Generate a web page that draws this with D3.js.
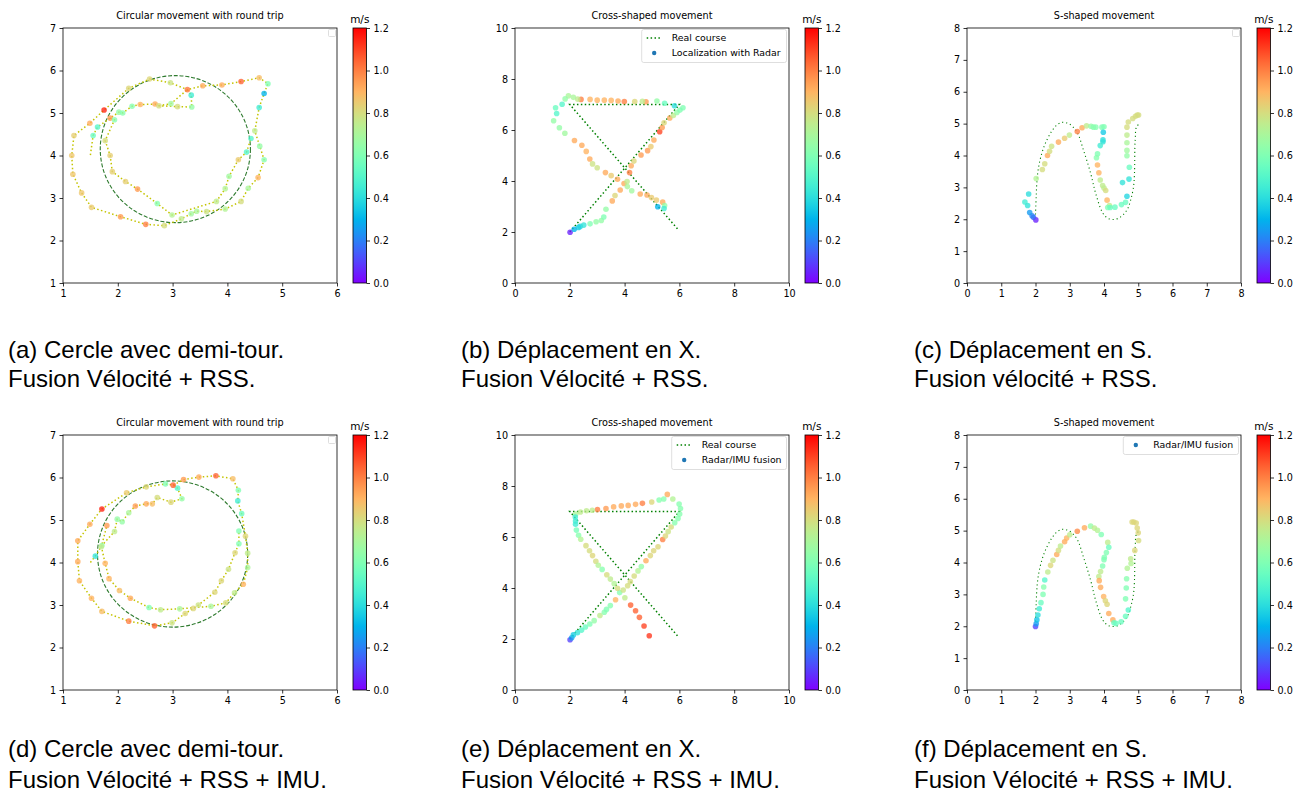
<!DOCTYPE html>
<html><head><meta charset="utf-8">
<script src="https://cdn.jsdelivr.net/npm/d3@7"></script>
<style>body{margin:0;background:#fff}svg{display:block}</style>
</head><body><svg id="c" width="1300" height="797"></svg>
<script>
// ---------------- DATA ----------------
const speedTicks = [0, 0.2, 0.4, 0.6, 0.8, 1.0, 1.2];
const circleXTicks = [1, 2, 3, 4, 5, 6];
const circleYTicks = [1, 2, 3, 4, 5, 6, 7];
const crossTicks = [0, 2, 4, 6, 8, 10];
const sTicks = [0, 1, 2, 3, 4, 5, 6, 7, 8];

const titles = ["Circular movement with round trip", "Cross-shaped movement", "S-shaped movement"];
const captionsTop = [
  ["(a) Cercle avec demi-tour.", "Fusion Vélocité + RSS."],
  ["(b) Déplacement en X.", "Fusion Vélocité + RSS."],
  ["(c) Déplacement en S.", "Fusion vélocité + RSS."]
];
const captionsBottom = [
  ["(d) Cercle avec demi-tour.", "Fusion Vélocité + RSS + IMU."],
  ["(e) Déplacement en X.", "Fusion Vélocité + RSS + IMU."],
  ["(f) Déplacement en S.", "Fusion Vélocité + RSS + IMU."]
];

// reference circles [cx, cy, rx, ry]
const circleA = [3.05, 4.15, 1.37, 1.73];
const circleD = [3.00, 4.20, 1.37, 1.72];

// real courses
const crossCourse = [[2, 2], [6, 7], [2, 7], [5.95, 2.1]];
const sCourse = [[2.00,2.15],[2.02,2.7],[2.05,3.3],[2.12,3.8],[2.26,4.31],[2.46,4.74],[2.62,4.95],[2.78,5.04],[3.00,4.98],[3.21,4.74],[3.40,4.17],[3.61,3.44],[3.76,2.8],[3.96,2.2],[4.10,2.04],[4.26,1.99],[4.42,2.03],[4.56,2.14],[4.70,2.35],[4.78,2.61],[4.86,3.0],[4.89,3.44],[4.91,4.48],[4.96,4.92],[5.08,5.0]];

// estimated trajectory (a): [x, y, speed] (null speed = line vertex only)
const aSeg1 = [[1.50,4.01,null],[1.55,4.47,0.55],[1.63,4.67,0.50],[1.86,4.88,0.95],[2.02,5.02,0.65],[2.09,5.00,0.62],[2.26,5.16,0.62],[2.41,5.20,0.90],[2.68,5.21,0.92],[2.75,5.17,0.80],[3.09,5.15,0.80],[3.35,5.14,0.65],[3.34,5.42,0.45],[3.27,5.55,1.02],[3.55,5.64,0.92],[3.90,5.66,0.92],[4.25,5.74,1.05],[4.58,5.83,0.88],[4.74,5.69,0.60],[4.67,5.46,0.30],[4.58,5.13,0.45],[4.50,4.58,0.75],[4.59,4.22,0.65],[4.67,3.90,0.62],[4.56,3.48,0.90],[4.38,3.23,0.70],[4.25,2.92,0.80],[3.96,2.74,0.72],[3.62,2.68,0.78],[3.44,2.69,0.70],[3.34,2.63,0.68],[3.16,2.51,0.75],[2.85,2.35,0.80],[2.51,2.38,1.00],[2.05,2.56,0.95],[1.52,2.78,0.85],[1.34,3.12,0.86],[1.18,3.56,0.86],[1.16,4.00,0.86],[1.20,4.47,0.84],[1.49,4.76,0.92],[1.75,5.07,1.15],[2.20,5.58,0.82],[2.58,5.80,0.82],[2.96,5.71,0.78],[3.27,5.55,null]];
const aSeg2 = [[1.86,4.88,null],[1.94,4.84,0.62],[1.77,4.35,0.80],[1.86,4.00,0.84],[1.90,3.62,0.84],[2.14,3.39,0.84],[2.36,3.21,0.95],[2.72,2.87,0.62],[2.99,2.60,0.72],[3.80,2.92,0.75],[3.96,3.22,0.72],[4.03,3.51,0.68],[4.20,3.90,0.85],[4.35,4.08,0.50],[4.43,4.40,0.50]];
const aSeg3 = [[2.75,5.17,null],[2.97,5.22,0.68],[3.27,5.55,null]];

// estimated trajectory (d)
const dSeg1 = [[1.50,4.00,null],[1.59,4.15,0.42],[1.71,4.40,0.65],[1.94,4.73,0.75],[1.99,5.02,0.65],[2.08,4.96,0.65],[2.20,5.17,0.70],[2.32,5.33,0.95],[2.52,5.38,0.92],[2.63,5.38,0.88],[2.72,5.53,0.80],[2.97,5.42,0.82],[3.17,5.50,0.65],[3.09,5.75,0.50],[3.01,5.82,1.05],[2.87,5.85,0.60],[2.52,5.78,0.82],[2.16,5.64,0.85],[1.71,5.26,1.15],[1.49,4.90,0.92],[1.27,4.51,0.92],[1.27,4.02,0.92],[1.30,3.57,0.90],[1.52,3.16,0.90],[1.71,2.85,0.88],[2.20,2.62,1.00],[2.67,2.51,1.05],[2.99,2.58,0.78],[3.23,2.80,0.82],[3.38,2.92,0.82],[3.47,3.00,0.78],[3.77,3.30,0.82],[3.89,3.57,0.82],[4.02,3.84,0.78],[4.14,4.23,0.82],[4.21,4.44,0.60],[4.21,4.74,0.60]];
const dSeg2 = [[3.01,5.82,null],[3.20,5.95,0.95],[3.48,6.01,0.92],[3.79,6.04,1.05],[4.10,5.97,0.88],[4.20,5.70,0.60],[4.19,5.45,0.45],[4.26,5.15,0.55],[4.33,4.62,0.82],[4.37,4.22,0.75],[4.37,3.88,0.70],[4.29,3.49,0.90],[4.13,3.29,0.75],[3.97,3.05,0.80],[3.70,2.97,0.70],[3.13,2.91,0.70],[2.78,2.89,0.75],[2.57,2.94,0.60],[2.23,3.16,0.92],[2.03,3.34,0.88],[1.84,3.62,0.90],[1.77,3.98,0.90],[1.70,4.37,0.75],[1.80,4.87,0.95]];

// radar localization (b)
const bPoints = [[2.01,1.99,0.05],[2.16,2.11,0.30],[2.32,2.18,0.35],[2.38,2.22,0.38],[2.51,2.27,0.42],[2.74,2.32,0.60],[2.96,2.40,0.65],[3.15,2.45,0.65],[3.24,2.59,0.60],[3.32,2.89,0.65],[3.55,3.22,0.92],[3.65,3.43,0.82],[3.84,3.65,0.92],[3.98,3.90,0.92],[4.09,3.98,0.75],[4.10,3.78,0.70],[4.26,3.62,0.68],[4.18,4.33,1.00],[4.24,4.60,0.92],[4.34,4.78,0.82],[4.60,5.02,0.95],[4.84,5.19,0.95],[4.96,5.35,0.85],[5.07,5.61,0.92],[5.28,5.93,1.10],[5.37,6.10,0.95],[5.44,6.28,0.82],[5.65,6.47,0.92],[5.78,6.57,0.75],[5.91,6.69,0.65],[6.02,6.78,0.60],[6.13,6.87,0.60],[5.82,6.95,0.40],[5.46,7.05,0.55],[5.18,7.14,0.65],[4.78,7.11,0.95],[4.65,7.13,0.75],[4.37,7.12,0.82],[3.99,7.12,1.00],[3.76,7.14,0.92],[3.51,7.16,0.90],[3.26,7.17,0.90],[3.00,7.17,0.90],[2.74,7.20,0.90],[2.41,7.20,1.00],[2.29,7.21,0.75],[2.13,7.28,0.70],[1.95,7.34,0.70],[1.83,7.22,0.65],[1.72,7.01,0.50],[1.48,6.87,0.55],[1.52,6.65,0.50],[1.41,6.36,0.65],[1.62,6.09,0.65],[1.82,5.87,0.68],[2.17,5.59,0.92],[2.44,5.40,0.92],[2.60,5.16,0.90],[2.73,4.86,0.92],[2.83,4.67,0.78],[3.00,4.52,0.78],[3.30,4.33,0.92],[3.51,4.21,0.85],[3.74,4.07,0.92],[4.57,3.49,0.92],[4.82,3.45,0.92],[4.98,3.35,0.85],[5.16,3.25,0.85],[5.39,3.17,0.92],[5.46,3.04,0.65],[5.44,2.92,0.45],[5.21,2.99,0.30]];

// (c)
const cPoints = [[2.01,1.98,0.05],[1.94,2.06,0.15],[1.90,2.11,0.20],[1.83,2.21,0.25],[1.77,2.43,0.42],[1.69,2.54,0.45],[1.80,2.79,0.40],[2.02,3.28,0.72],[2.20,3.56,0.80],[2.27,3.74,0.80],[2.35,4.00,0.92],[2.41,4.13,0.80],[2.47,4.29,0.78],[2.67,4.42,0.92],[2.85,4.54,0.85],[2.99,4.64,0.75],[3.22,4.75,1.00],[3.36,4.87,0.92],[3.49,4.93,0.75],[3.62,4.92,0.65],[3.69,4.89,0.62],[3.76,4.89,0.62],[3.94,4.89,0.60],[4.00,4.90,0.60],[3.98,4.73,0.35],[3.97,4.49,0.40],[3.97,4.43,0.42],[3.89,4.31,0.45],[3.81,4.05,0.60],[3.78,3.93,0.62],[3.81,3.70,0.90],[3.85,3.46,0.90],[3.89,3.23,0.75],[3.96,3.06,0.75],[4.00,2.98,0.75],[4.05,2.90,0.80],[4.09,2.60,0.90],[4.16,2.43,0.75],[4.11,2.37,0.60],[4.18,2.37,0.55],[4.32,2.38,0.55],[4.51,2.46,0.55],[4.63,2.53,0.55],[4.67,2.72,0.38],[4.54,3.15,0.42],[4.73,3.26,0.42],[4.74,3.63,0.55],[4.67,3.99,0.65],[4.67,4.16,0.68],[4.67,4.40,0.70],[4.67,4.64,0.75],[4.67,4.89,0.80],[4.71,5.05,0.80],[4.84,5.16,0.80],[4.92,5.23,0.80],[4.97,5.27,0.80],[5.01,5.27,0.80]];

// (e)
const ePoints = [[2.01,1.97,0.10],[2.07,2.05,0.25],[2.13,2.16,0.35],[2.28,2.25,0.42],[2.43,2.35,0.50],[2.57,2.47,0.55],[2.73,2.59,0.60],[2.89,2.72,0.65],[3.10,2.92,0.75],[3.26,3.05,0.62],[3.34,3.16,0.60],[3.48,3.31,0.62],[3.67,3.54,0.90],[3.82,3.82,0.62],[3.95,3.92,0.78],[4.11,4.09,0.80],[4.21,4.25,0.80],[4.35,4.47,0.80],[4.49,4.67,0.72],[4.61,4.84,0.65],[4.78,5.07,0.92],[4.94,5.27,0.82],[5.06,5.46,0.82],[5.22,5.62,0.82],[5.39,5.90,1.00],[5.49,6.04,0.82],[5.59,6.21,0.78],[5.70,6.39,0.80],[5.83,6.56,0.62],[5.95,6.73,0.62],[6.01,6.90,0.62],[6.04,7.12,0.62],[5.99,7.29,0.62],[5.76,7.49,0.72],[5.56,7.67,0.92],[5.43,7.49,0.62],[5.26,7.45,0.62],[4.99,7.37,0.82],[4.65,7.32,1.00],[4.40,7.28,0.92],[4.13,7.24,0.92],[3.88,7.22,0.92],[3.60,7.18,0.92],[3.32,7.12,0.95],[3.01,7.08,1.00],[2.82,7.05,0.75],[2.61,7.03,0.75],[2.39,6.98,0.75],[2.22,6.90,0.70],[2.20,6.78,0.45],[2.21,6.63,0.45],[2.21,6.50,0.45],[2.24,6.27,0.58],[2.32,6.07,0.62],[2.40,5.91,0.72],[2.59,5.66,0.80],[2.72,5.46,0.80],[2.83,5.27,0.82],[2.95,5.05,0.80],[3.04,4.89,0.72],[3.18,4.73,0.62],[3.35,4.52,0.80],[3.48,4.35,0.75],[3.62,4.17,0.72],[3.74,3.99,0.80],[4.01,3.62,0.75],[4.22,3.33,1.05],[4.40,3.11,1.05],[4.54,2.85,1.05],[4.71,2.51,1.10],[4.90,2.13,1.12]];

// (f)
const fPoints = [[2.00,1.99,0.10],[2.02,2.08,0.25],[2.04,2.20,0.33],[2.07,2.35,0.40],[2.11,2.55,0.45],[2.16,2.74,0.55],[2.22,3.00,0.60],[2.24,3.23,0.62],[2.27,3.45,0.50],[2.36,3.70,0.75],[2.44,3.91,0.82],[2.51,4.07,0.78],[2.62,4.25,0.92],[2.67,4.38,0.80],[2.73,4.52,0.75],[2.85,4.65,0.92],[2.91,4.77,0.90],[3.00,4.87,0.75],[3.22,4.98,0.98],[3.43,5.09,0.92],[3.61,5.14,0.65],[3.72,5.08,0.75],[3.81,5.01,0.72],[3.92,4.88,0.60],[4.11,4.63,0.75],[4.14,4.48,0.55],[4.07,4.31,0.60],[4.01,4.16,0.60],[4.00,4.09,0.60],[3.96,3.89,0.60],[3.90,3.72,0.75],[3.85,3.56,0.75],[3.86,3.43,0.92],[3.90,3.22,0.92],[3.99,2.93,0.90],[4.04,2.80,0.82],[4.09,2.69,0.82],[4.14,2.40,0.92],[4.26,2.20,0.92],[4.29,2.11,0.55],[4.35,2.09,0.55],[4.50,2.14,0.55],[4.63,2.31,0.55],[4.71,2.51,0.50],[4.63,2.86,0.60],[4.65,3.20,0.60],[4.66,3.49,0.62],[4.68,3.82,0.72],[4.79,3.97,0.72],[4.78,4.12,0.75],[4.90,4.38,0.82],[5.01,4.69,0.80],[5.00,4.93,0.82],[4.97,5.08,0.82],[4.94,5.24,0.82],[4.87,5.27,0.82],[4.82,5.27,0.82]];

// ---------------- DRAWING ----------------
const svg = d3.select('#c');
const defs = svg.append('defs');
const TICK_FONT = '"DejaVu Sans", sans-serif';

function rainbow(v) {
  const t = Math.max(0, Math.min(1, v / 1.2));
  const r = Math.min(1, Math.abs(2 * t - 0.5)), g = Math.sin(Math.PI * t), b = Math.cos(Math.PI * t / 2);
  return d3.rgb(r * 255, g * 255, b * 255).toString();
}

// colorbar gradient
const grad = defs.append('linearGradient').attr('id', 'rb').attr('x1', 0).attr('y1', 1).attr('x2', 0).attr('y2', 0);
d3.range(0, 1.2001, 0.05).forEach(v => grad.append('stop').attr('offset', v / 1.2).attr('stop-color', rainbow(v)));

function styleAxis(g) {
  g.select('.domain').remove();
  g.selectAll('.tick line').attr('stroke', '#000').attr('stroke-width', 0.8);
  g.selectAll('.tick text').attr('font-family', TICK_FONT).attr('font-size', 9.6).attr('fill', '#000');
}

function panel(cfg) {
  const {id, x0, y0, w, h} = cfg;
  const x = d3.scaleLinear().domain(cfg.xd).range([x0, x0 + w]);
  const y = d3.scaleLinear().domain(cfg.yd).range([y0 + h, y0]);
  defs.append('clipPath').attr('id', 'clip' + id).append('rect').attr('x', x0).attr('y', y0).attr('width', w).attr('height', h);
  const g = svg.append('g');
  const plot = g.append('g').attr('clip-path', `url(#clip${id})`);

  if (cfg.circle) {
    const c = cfg.circle;
    plot.append('ellipse')
      .attr('cx', x(c[0])).attr('cy', y(c[1]))
      .attr('rx', x(c[0] + c[2]) - x(c[0])).attr('ry', y(c[1]) - y(c[1] + c[3]))
      .attr('fill', 'none').attr('stroke', '#2e7a2e').attr('stroke-width', 1.1).attr('stroke-dasharray', '4,1.8');
  }
  if (cfg.course) {
    const line = d3.line().x(d => x(d[0])).y(d => y(d[1]));
    if (cfg.smooth) line.curve(d3.curveCatmullRom.alpha(0.5));
    plot.append('path').attr('d', line(cfg.course)).attr('fill', 'none')
      .attr('stroke', '#008000').attr('stroke-width', cfg.courseW).attr('stroke-dasharray', cfg.courseDash);
  }
  let pts = cfg.points ? cfg.points.slice() : [];
  if (cfg.segs) {
    const line = d3.line().x(d => x(d[0])).y(d => y(d[1]));
    cfg.segs.forEach(s => {
      plot.append('path').attr('d', line(s)).attr('fill', 'none')
        .attr('stroke', '#c4c400').attr('stroke-width', 1.5).attr('stroke-dasharray', '1.5,2.4');
      s.forEach(p => { if (p[2] !== null) pts.push(p); });
    });
  }
  plot.selectAll('circle.pt').data(pts).join('circle').attr('class', 'pt')
    .attr('cx', d => x(d[0])).attr('cy', d => y(d[1])).attr('r', 2.8)
    .attr('fill', d => rainbow(d[2])).attr('fill-opacity', 0.78);

  // frame
  g.append('rect').attr('x', x0).attr('y', y0).attr('width', w).attr('height', h)
    .attr('fill', 'none').attr('stroke', '#000').attr('stroke-width', 0.8);
  // axes
  g.append('g').attr('transform', `translate(0,${y0 + h})`)
    .call(d3.axisBottom(x).tickValues(cfg.xt).tickFormat(d3.format('d')).tickSize(3.5).tickPadding(3.5)).call(styleAxis);
  g.append('g').attr('transform', `translate(${x0},0)`)
    .call(d3.axisLeft(y).tickValues(cfg.yt).tickFormat(d3.format('d')).tickSize(3.5).tickPadding(3.5)).call(styleAxis);
  // title
  g.append('text').attr('x', x0 + w / 2).attr('y', y0 - 9.5).attr('text-anchor', 'middle')
    .attr('font-family', TICK_FONT).attr('font-size', 9.7).text(cfg.title);

  // legend
  if (cfg.legend === 'empty') {
    g.append('rect').attr('x', x0 + w - 8.5).attr('y', y0 + 1.5).attr('width', 7).attr('height', 7).attr('rx', 1)
      .attr('fill', '#fff').attr('stroke', '#d6d6d6').attr('stroke-width', 0.8);
  } else if (cfg.legend) {
    const L = cfg.legend;
    const lx = L.x, ly = y0 + 1.5, lh = 15 * L.items.length + 3;
    g.append('rect').attr('x', lx).attr('y', ly).attr('width', x0 + w - 2.5 - lx).attr('height', lh).attr('rx', 2)
      .attr('fill', '#fff').attr('fill-opacity', 0.85).attr('stroke', '#d6d6d6').attr('stroke-width', 0.8);
    L.items.forEach((it, i) => {
      const cy = ly + 8.5 + i * 15;
      if (it.type === 'line') {
        g.append('line').attr('x1', lx + 5).attr('x2', lx + 20).attr('y1', cy).attr('y2', cy)
          .attr('stroke', '#008000').attr('stroke-width', 1.5).attr('stroke-dasharray', '1.5,2.4');
      } else {
        g.append('circle').attr('cx', lx + 12.5).attr('cy', cy).attr('r', 2.2).attr('fill', '#1f77b4');
      }
      g.append('text').attr('x', lx + 30).attr('y', cy).attr('dy', '0.35em')
        .attr('font-family', TICK_FONT).attr('font-size', 9.4).text(it.label);
    });
  }

  // colorbar
  const cbx = x0 + w + 16, cbw = 13.5;
  const cs = d3.scaleLinear().domain([0, 1.2]).range([y0 + h, y0]);
  g.append('rect').attr('x', cbx).attr('y', y0).attr('width', cbw).attr('height', h).attr('fill', 'url(#rb)');
  g.append('rect').attr('x', cbx).attr('y', y0).attr('width', cbw).attr('height', h)
    .attr('fill', 'none').attr('stroke', '#000').attr('stroke-width', 0.8);
  g.append('g').attr('transform', `translate(${cbx + cbw},0)`)
    .call(d3.axisRight(cs).tickValues(speedTicks).tickFormat(d3.format('.1f')).tickSize(3.5).tickPadding(3.5)).call(styleAxis);
  g.append('text').attr('x', cbx + cbw / 2).attr('y', y0 - 5).attr('text-anchor', 'middle')
    .attr('font-family', TICK_FONT).attr('font-size', 10.5).text('m/s');
}

const colX = [63, 515, 967];
const rowY = [28, 435];
const W = 274, H = 255;

panel({id: 'a', x0: colX[0], y0: rowY[0], w: W, h: H, xd: [1, 6], yd: [1, 7], xt: circleXTicks, yt: circleYTicks,
  title: titles[0], circle: circleA, segs: [aSeg1, aSeg2, aSeg3], legend: 'empty'});
panel({id: 'b', x0: colX[1], y0: rowY[0], w: W, h: H, xd: [0, 10], yd: [0, 10], xt: crossTicks, yt: crossTicks,
  title: titles[1], course: crossCourse, courseW: 1.5, courseDash: '1.5,2.4', points: bPoints,
  legend: {x: 641.7, items: [{type: 'line', label: 'Real course'}, {type: 'dot', label: 'Localization with Radar'}]}});
panel({id: 'c', x0: colX[2], y0: rowY[0], w: W, h: H, xd: [0, 8], yd: [0, 8], xt: sTicks, yt: sTicks,
  title: titles[2], course: sCourse, smooth: true, courseW: 1.1, courseDash: '1.1,2.9', points: cPoints, legend: 'empty'});
panel({id: 'd', x0: colX[0], y0: rowY[1], w: W, h: H, xd: [1, 6], yd: [1, 7], xt: circleXTicks, yt: circleYTicks,
  title: titles[0], circle: circleD, segs: [dSeg1, dSeg2], legend: 'empty'});
panel({id: 'e', x0: colX[1], y0: rowY[1], w: W, h: H, xd: [0, 10], yd: [0, 10], xt: crossTicks, yt: crossTicks,
  title: titles[1], course: crossCourse, courseW: 1.5, courseDash: '1.5,2.4', points: ePoints,
  legend: {x: 671.7, items: [{type: 'line', label: 'Real course'}, {type: 'dot', label: 'Radar/IMU fusion'}]}});
panel({id: 'f', x0: colX[2], y0: rowY[1], w: W, h: H, xd: [0, 8], yd: [0, 8], xt: sTicks, yt: sTicks,
  title: titles[2], course: sCourse, smooth: true, courseW: 1.1, courseDash: '1.1,2.9', points: fPoints,
  legend: {x: 1123.3, items: [{type: 'dot', label: 'Radar/IMU fusion'}]}});

// captions
const capX = [8, 461, 914];
function captions(list, y1, y2) {
  list.forEach((c, i) => {
    [y1, y2].forEach((yy, j) => {
      svg.append('text').attr('x', capX[i]).attr('y', yy)
        .attr('font-family', '"Liberation Sans", Arial, Helvetica, sans-serif').attr('font-size', 24)
        .attr('fill', '#000').text(c[j]);
    });
  });
}
captions(captionsTop, 358, 387);
captions(captionsBottom, 757, 788);
</script>
</body></html>
